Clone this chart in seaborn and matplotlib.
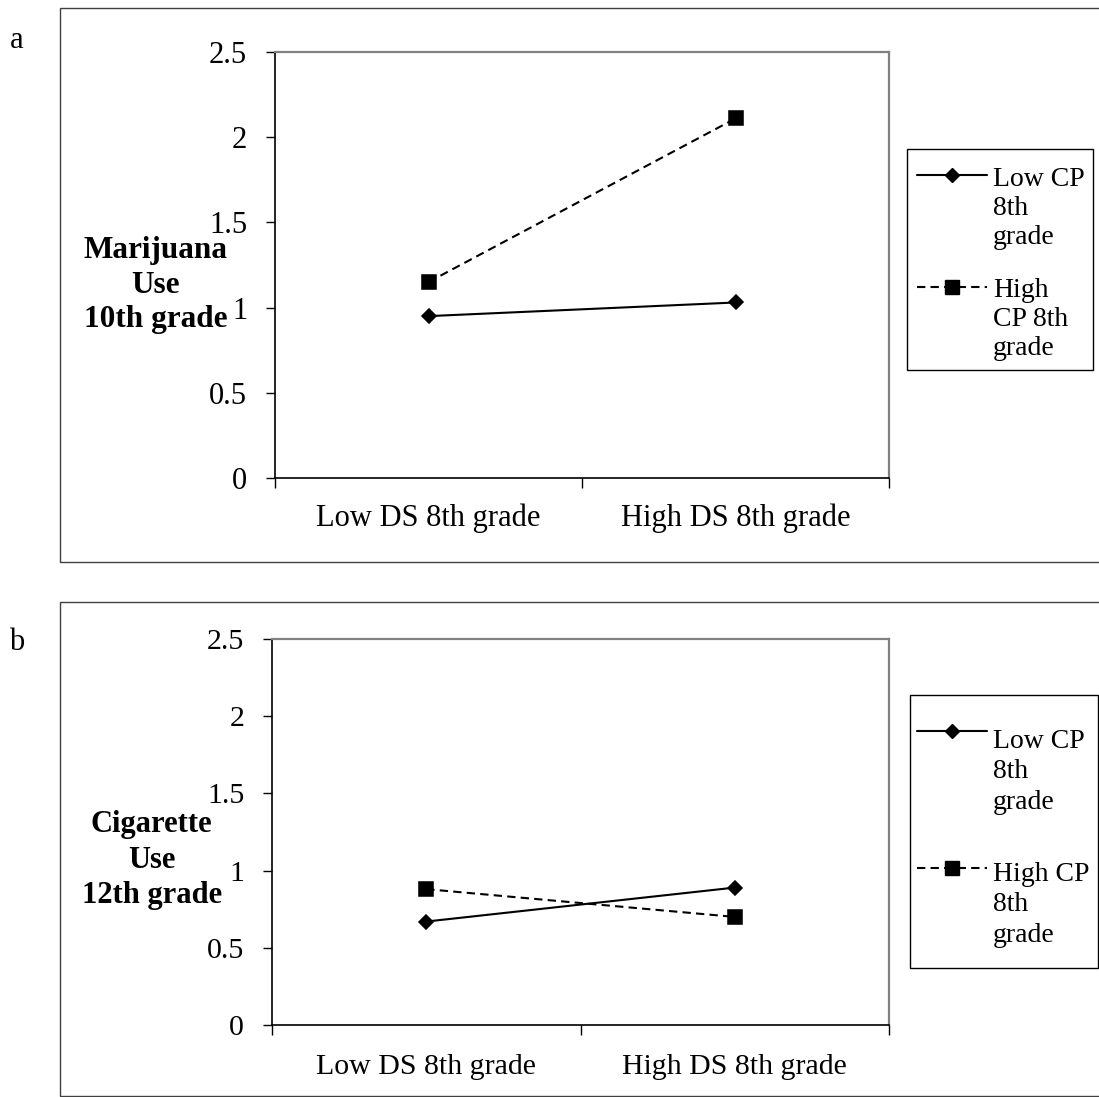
import matplotlib
matplotlib.use('Agg')
import pandas as pd
import matplotlib.pyplot as plt
from matplotlib.lines import Line2D
from matplotlib.patches import Rectangle
import seaborn as sns

# categories: depressive symptoms (x) and conduct problems (series)
ds_levels = ['Low DS 8th grade', 'High DS 8th grade']
cp_levels = ['Low CP', 'High CP']

# panel a: marijuana use, 10th grade
marijuana_low_cp = [0.95, 1.03]
marijuana_high_cp = [1.15, 2.11]

# panel b: cigarette use, 12th grade
cigarette_low_cp = [0.67, 0.89]
cigarette_high_cp = [0.88, 0.70]

y_ticks = [0, 0.5, 1, 1.5, 2, 2.5]
y_tick_labels = ['0', '0.5', '1', '1.5', '2', '2.5']

W, H = 1099, 1097

sns.set_theme(style='white')
plt.rcParams['font.family'] = ['Liberation Serif', 'DejaVu Serif']
for key in ['text.color', 'axes.labelcolor', 'xtick.color', 'ytick.color']:
    plt.rcParams[key] = 'black'


def px(x, y):
    # pixel position -> figure fraction
    return x / W, 1 - y / H


def draw_panel(ax, low, high, ylabel, label_y, tick_fs, label_fs, xpad, ls_label):
    df = pd.DataFrame({
        'DS': ds_levels * 2,
        'CP': [cp_levels[0]] * 2 + [cp_levels[1]] * 2,
        'use': list(low) + list(high),
    })
    sns.pointplot(data=df, x='DS', y='use', hue='CP', order=ds_levels,
                  hue_order=cp_levels, palette=['black', 'black'],
                  markers=['D', 's'], linestyles=['-', (0, (4, 2.5))],
                  errorbar=None, legend=False, ax=ax, linewidth=1.5)
    ax.lines[0].set_markersize(7.5)
    ax.lines[1].set_markersize(10.5)

    ax.set_xlim(-0.5, 1.5)
    ax.set_xticks([-0.5, 0.5, 1.5])
    ax.set_xticklabels([])
    ax.set_xticks([0, 1], minor=True)
    ax.set_xticklabels(ds_levels, minor=True, fontsize=tick_fs)
    ax.tick_params(axis='x', which='major', direction='out', length=7,
                   width=1, color='black', bottom=True)
    ax.tick_params(axis='x', which='minor', length=0, pad=xpad, bottom=True)
    ax.set_xlabel('')

    ax.set_ylim(0, 2.5)
    ax.set_yticks(y_ticks)
    ax.set_yticklabels(y_tick_labels, fontsize=tick_fs)
    ax.tick_params(axis='y', direction='out', length=6.5, width=1,
                   color='black', left=True, pad=13.5)

    for s in ['left', 'bottom']:
        ax.spines[s].set_color('black')
        ax.spines[s].set_linewidth(1.2)
    for s in ['top', 'right']:
        ax.spines[s].set_color('#808080')
        ax.spines[s].set_linewidth(1.6)

    ax.set_ylabel(ylabel, rotation=0, fontsize=label_fs, fontweight='bold',
                  ha='center', va='center', linespacing=ls_label)
    ax.yaxis.set_label_coords(-0.195, label_y)


def draw_legend(fig, box, entries, text_ls):
    x0, y0, x1, y1 = box
    fx, fy = px(x0, y1)
    fig.add_artist(Rectangle((fx, fy), (x1 - x0) / W, (y1 - y0) / H,
                             transform=fig.transFigure, fill=False,
                             edgecolor='black', lw=1))
    for label, marker, ms, ls, hy, last_base in entries:
        _, ly = px(0, hy)
        fig.add_artist(Line2D([917 / W, 987 / W], [ly, ly], color='black',
                              lw=1.5, ls=ls, transform=fig.transFigure))
        fig.add_artist(Line2D([952 / W], [ly], color='black', marker=marker,
                              ms=ms, transform=fig.transFigure))
        # multi-line text: baseline alignment uses the last line
        tx, ty = px(993, last_base)
        fig.text(tx, ty, label, fontsize=20, ha='left', va='baseline',
                 linespacing=text_ls)


fig = plt.figure(figsize=(W / 100, H / 100), dpi=100)

# outer panel frames
for top, bottom in [(8, 562), (602, 1096)]:
    fx, fy = px(60, bottom)
    fig.add_artist(Rectangle((fx, fy), (1110 - 60) / W, (bottom - top) / H,
                             transform=fig.transFigure, fill=False,
                             edgecolor='#404040', lw=1))

ax_a = fig.add_axes([275 / W, 1 - 478 / H, (889 - 275) / W, (478 - 52) / H])
draw_panel(ax_a, marijuana_low_cp, marijuana_high_cp,
           'Marijuana\nUse\n10th grade', 0.453, 22, 22.5, 18, 1.25)

ax_b = fig.add_axes([272 / W, 1 - 1025 / H, (889 - 272) / W, (1025 - 639) / H])
draw_panel(ax_b, cigarette_low_cp, cigarette_high_cp,
           'Cigarette\nUse\n12th grade', 0.427, 21.5, 22, 21, 1.3)

draw_legend(fig, (907, 149, 1093, 370), [
    ('Low CP\n8th\ngrade', 'D', 7.5, '-', 175, 244),
    ('High\nCP 8th\ngrade', 's', 10.5, (0, (4, 2.5)), 287, 355),
], 1.2)
draw_legend(fig, (910, 695, 1098, 968), [
    ('Low CP\n8th\ngrade', 'D', 7.5, '-', 731, 809),
    ('High CP\n8th\ngrade', 's', 10.5, (0, (4, 2.5)), 868, 942),
], 1.3)

fig.text(*px(17, 40), 'a', fontsize=22, ha='center', va='center')
fig.text(*px(17, 643), 'b', fontsize=22, ha='center', va='center')

fig.savefig('out.png', dpi=100)
